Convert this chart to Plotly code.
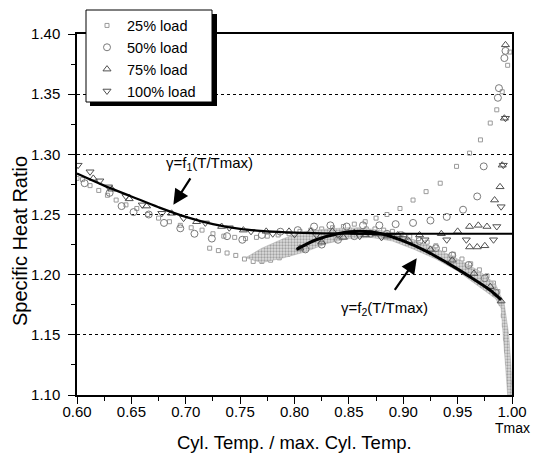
import plotly.graph_objects as go

# ---------------- data ----------------
x25 = [0.600, 0.605, 0.612, 0.620, 0.628, 0.636, 0.645, 0.655, 0.665, 0.675,
       0.685, 0.695, 0.705, 0.715, 0.725, 0.735, 0.745, 0.755, 0.765, 0.775,
       0.785, 0.795, 0.805, 0.815, 0.825, 0.835, 0.845, 0.855, 0.865, 0.875,
       0.885, 0.897, 0.909, 0.921, 0.934, 0.949, 0.961, 0.971, 0.980, 0.986,
       0.991, 0.996, 0.998,
       0.999, 0.998, 0.997, 0.996, 0.995, 0.994, 0.993, 0.992, 0.990, 0.987,
       0.983, 0.977, 0.970, 0.962, 0.954, 0.946, 0.938, 0.930, 0.922, 0.914,
       0.906, 0.898, 0.890, 0.882, 0.874, 0.866, 0.858, 0.850, 0.842, 0.834,
       0.826, 0.818, 0.810, 0.802, 0.794, 0.786, 0.778, 0.770, 0.762, 0.754,
       0.746, 0.738, 0.730, 0.722]
y25 = [1.280, 1.279, 1.274, 1.270, 1.266, 1.262, 1.258, 1.255, 1.250, 1.247,
       1.244, 1.241, 1.239, 1.237, 1.234, 1.232, 1.231, 1.230, 1.231, 1.232,
       1.233, 1.234, 1.236, 1.237, 1.238, 1.239, 1.240, 1.242, 1.244, 1.247,
       1.250, 1.255, 1.262, 1.269, 1.276, 1.290, 1.301, 1.312, 1.326, 1.337,
       1.352, 1.374, 1.385,
       1.102, 1.110, 1.118, 1.127, 1.137, 1.147, 1.158, 1.166, 1.176, 1.186,
       1.193, 1.199, 1.204, 1.209, 1.213, 1.217, 1.221, 1.224, 1.227, 1.230,
       1.232, 1.234, 1.236, 1.237, 1.238, 1.238, 1.237, 1.236, 1.234, 1.232,
       1.229, 1.226, 1.223, 1.220, 1.217, 1.214, 1.212, 1.211, 1.211, 1.213,
       1.216, 1.218, 1.220, 1.222]

x50 = [0.607, 0.630, 0.641, 0.652, 0.666, 0.680, 0.695, 0.708, 0.724, 0.738,
       0.752, 0.770, 0.787, 0.803, 0.818, 0.833, 0.848, 0.863, 0.878, 0.893,
       0.909, 0.925, 0.940, 0.955, 0.968, 0.974, 0.987, 0.988, 0.993, 0.994,
       0.985, 0.975, 0.960, 0.945, 0.930, 0.915, 0.900, 0.885, 0.870, 0.855,
       0.840, 0.825, 0.810]
y50 = [1.276, 1.268, 1.257, 1.252, 1.250, 1.243, 1.2385, 1.234, 1.230, 1.232,
       1.229, 1.233, 1.2357, 1.237, 1.240, 1.241, 1.240, 1.241, 1.241, 1.242,
       1.243, 1.245, 1.248, 1.254, 1.265, 1.290, 1.347, 1.355, 1.380, 1.386,
       1.185, 1.197, 1.208, 1.216, 1.222, 1.228, 1.232, 1.234, 1.234, 1.232,
       1.229, 1.225, 1.221]

x75 = [0.615, 0.632, 0.648, 0.664, 0.687, 0.710, 0.733, 0.753, 0.774, 0.795,
       0.815, 0.835, 0.855, 0.875, 0.895, 0.915, 0.935, 0.950, 0.961, 0.969,
       0.977, 0.961, 0.968, 0.975, 0.984, 0.989, 0.991, 0.993, 0.994,
       0.990, 0.980, 0.965, 0.945, 0.925, 0.905, 0.885, 0.865, 0.845, 0.825,
       0.805]
y75 = [1.280, 1.271, 1.263, 1.257, 1.251, 1.244, 1.240, 1.237, 1.236, 1.236,
       1.236, 1.236, 1.235, 1.234, 1.233, 1.233, 1.234, 1.236, 1.240, 1.241,
       1.240, 1.223, 1.223, 1.224, 1.262, 1.273, 1.291, 1.330, 1.391,
       1.178, 1.190, 1.201, 1.212, 1.221, 1.228, 1.232, 1.233, 1.231, 1.227,
       1.222]

x100 = [0.601, 0.612, 0.621, 0.629, 0.645, 0.660, 0.678, 0.698, 0.718, 0.740,
        0.760, 0.780, 0.800, 0.820, 0.840, 0.860, 0.880, 0.900, 0.920, 0.940,
        0.958, 0.983, 0.986, 0.990, 0.992, 0.994]
y100 = [1.291, 1.2855, 1.278, 1.273, 1.265, 1.258, 1.251, 1.247, 1.243, 1.239,
        1.236, 1.234, 1.2335, 1.233, 1.233, 1.232, 1.231, 1.230, 1.229, 1.229,
        1.229, 1.229, 1.240, 1.2565, 1.291, 1.330]

# dense expansion-band region (stippled in the original)
band_x = [0.755, 0.770, 0.790, 0.810, 0.830, 0.850, 0.870, 0.890, 0.910, 0.930,
          0.950, 0.970, 0.985, 0.993, 0.997, 0.999, 1.000,
          0.996, 0.994, 0.992, 0.990, 0.985, 0.970, 0.950, 0.930, 0.910, 0.890,
          0.870, 0.850, 0.830, 0.810, 0.790, 0.770, 0.755]
band_y = [1.214, 1.222, 1.230, 1.236, 1.238, 1.239, 1.238, 1.235, 1.229, 1.222,
          1.213, 1.203, 1.192, 1.175, 1.150, 1.125, 1.100,
          1.100, 1.125, 1.150, 1.172, 1.180, 1.190, 1.203, 1.213, 1.221, 1.228,
          1.231, 1.230, 1.226, 1.219, 1.214, 1.210, 1.214]

# fitted curves
f1_x = [0.60, 0.625, 0.65, 0.675, 0.70, 0.725, 0.75, 0.775, 0.80, 0.85, 0.90, 0.95, 1.00]
f1_y = [1.284, 1.274, 1.265, 1.256, 1.248, 1.242, 1.238, 1.236, 1.235, 1.234, 1.234, 1.234, 1.234]
f2_x = [0.802, 0.82, 0.84, 0.86, 0.88, 0.90, 0.92, 0.94, 0.96, 0.98, 0.990]
f2_y = [1.221, 1.229, 1.234, 1.236, 1.234, 1.228, 1.220, 1.210, 1.199, 1.187, 1.179]

x_ticks = [0.60, 0.65, 0.70, 0.75, 0.80, 0.85, 0.90, 0.95, 1.00]
y_ticks = [1.10, 1.15, 1.20, 1.25, 1.30, 1.35, 1.40]

# ---------------- layout geometry (page pixels) ----------------
OFF = 8                      # page body margin
PL, PR, PT, PB = 77, 512, 34, 395   # plot area in page pixels
FW, FH = 542 - OFF, 459 - OFF
PW, PH = PR - PL, PB - PT
def px(xp):
    return (xp - PL) / PW
def py(yp):
    return (PB - yp) / PH

FONT = "Liberation Sans, Arial, sans-serif"
NB = "\u00a0"

fig = go.Figure()

fig.add_trace(go.Scatter(x=x25, y=y25, mode="markers", name="25% load" + NB * 4,
                         marker=dict(symbol="square-open", size=4, color="#9a9a9a",
                                     line=dict(width=1, color="#9a9a9a"))))
fig.add_trace(go.Scatter(x=band_x, y=band_y, mode="lines", fill="toself",
                         showlegend=False, hoverinfo="skip",
                         line=dict(width=0.5, color="#a8a8a8"),
                         fillcolor="#cccccc",
                         fillpattern=dict(shape=".", fgcolor="#666666", bgcolor="#dddddd",
                                          size=3, solidity=0.45)))
fig.add_trace(go.Scatter(x=x50, y=y50, mode="markers", name="50% load",
                         marker=dict(symbol="circle-open", size=7, color="#7a7a7a",
                                     line=dict(width=1, color="#7a7a7a"))))
fig.add_trace(go.Scatter(x=x75, y=y75, mode="markers", name="75% load",
                         marker=dict(symbol="triangle-up-open", size=7, color="#505050",
                                     line=dict(width=1, color="#505050"))))
fig.add_trace(go.Scatter(x=x100, y=y100, mode="markers", name="100% load",
                         marker=dict(symbol="triangle-down-open", size=7, color="#505050",
                                     line=dict(width=1, color="#505050"))))
fig.add_trace(go.Scatter(x=f1_x, y=f1_y, mode="lines", showlegend=False,
                         line=dict(color="black", width=2.2, shape="spline")))
fig.add_trace(go.Scatter(x=f2_x, y=f2_y, mode="lines", showlegend=False,
                         line=dict(color="black", width=3, shape="spline")))

annotations = [
    dict(x=0.722, y=1.2928, xref="x", yref="y", text="γ=f<sub>1</sub>(T/Tmax)",
         xanchor="center", yanchor="middle",
         showarrow=False, font=dict(size=15, color="black", family=FONT)),
    dict(x=0.6886, y=1.258, xref="x", yref="y", ax=18, ay=-28, text="",
         showarrow=True, arrowhead=2, arrowsize=1.4, arrowwidth=2.2, arrowcolor="black"),
    dict(x=0.883, y=1.1723, xref="x", yref="y", text="γ=f<sub>2</sub>(T/Tmax)",
         xanchor="center", yanchor="middle",
         showarrow=False, font=dict(size=15, color="black", family=FONT)),
    dict(x=0.9124, y=1.2136, xref="x", yref="y", ax=-23, ay=33, text="",
         showarrow=True, arrowhead=2, arrowsize=1.4, arrowwidth=2.2, arrowcolor="black"),
    dict(x=1.0, y=py(428), xref="x", yref="paper", text="Tmax", showarrow=False,
         xanchor="center", yanchor="middle",
         font=dict(size=14, color="black", family=FONT)),
    dict(x=0.5, y=py(442), xref="paper", yref="paper", text="Cyl. Temp. / max. Cyl. Temp.",
         xanchor="center", yanchor="middle",
         showarrow=False, font=dict(size=18.5, color="black", family=FONT)),
    dict(x=px(20), y=py(241), xref="paper", yref="paper", text="Specific Heat Ratio",
         xanchor="center", yanchor="middle",
         textangle=-90, showarrow=False, font=dict(size=20, color="black", family=FONT)),
]

# legend box and its shadow
shapes = [
    dict(type="rect", xref="paper", yref="paper", layer="above",
         x0=px(90), x1=px(217), y0=py(106), y1=py(14),
         fillcolor="black", line=dict(width=0)),
    dict(type="rect", xref="paper", yref="paper", layer="above",
         x0=px(86), x1=px(212), y0=py(102), y1=py(10),
         fillcolor="white", line=dict(width=1, color="black")),
]

fig.update_layout(
    width=FW, height=FH,
    margin=dict(l=PL - OFF, r=FW - (PR - OFF), t=PT - OFF, b=FH - (PB - OFF),
                autoexpand=False),
    paper_bgcolor="white", plot_bgcolor="white",
    font=dict(family=FONT, size=15, color="black"),
    showlegend=True,
    legend=dict(x=px(87), y=py(9.5), xanchor="left", yanchor="top",
                bgcolor="rgba(0,0,0,0)", borderwidth=0,
                font=dict(size=14.5, family=FONT, color="black"),
                itemsizing="trace"),
    annotations=annotations,
    shapes=shapes,
    xaxis=dict(range=[0.6, 1.0], tickvals=x_ticks, tickformat=".2f",
               ticks="outside", ticklen=7, tickwidth=1, tickcolor="black",
               ticklabelstandoff=-5,
               showline=True, linecolor="black", linewidth=1.5, mirror=True,
               showgrid=False, zeroline=False,
               tickfont=dict(size=15, family=FONT, color="black"),
               minor=dict(dtick=0.025, ticks="outside", ticklen=4, tickcolor="black",
                          showgrid=False)),
    yaxis=dict(range=[1.10, 1.40], tickvals=y_ticks, tickformat=".2f",
               ticks="outside", ticklen=7, tickwidth=1, tickcolor="black",
               ticklabelstandoff=5,
               showline=True, linecolor="black", linewidth=1.5, mirror=True,
               showgrid=True, gridcolor="black", gridwidth=1, griddash="dot",
               zeroline=False,
               tickfont=dict(size=15, family=FONT, color="black"),
               minor=dict(dtick=0.025, ticks="outside", ticklen=4, tickcolor="black",
                          showgrid=False)),
)

fig.write_html("out.html")
